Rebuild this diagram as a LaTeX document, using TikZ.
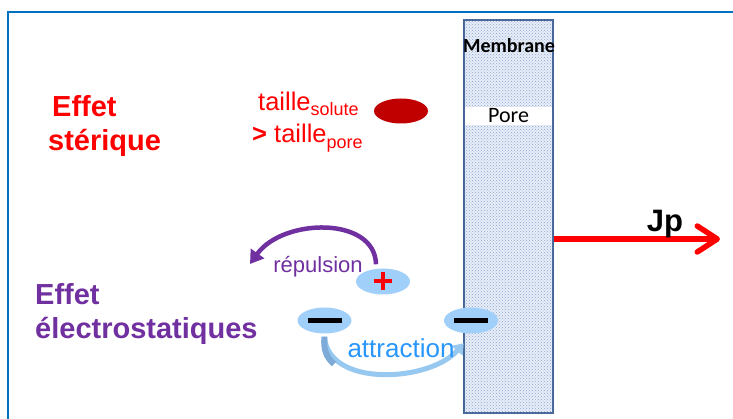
\documentclass[tikz,border=0pt]{standalone}
\usepackage{fontspec}
\setmainfont{Liberation Sans}
\newfontfamily\calibri{Carlito}
\usetikzlibrary{shapes.geometric,arrows.meta,patterns}
\definecolor{framecol}{RGB}{0,112,192}
\definecolor{stericred}{RGB}{255,0,0}
\definecolor{solutered}{RGB}{192,0,0}
\definecolor{electropurple}{RGB}{112,48,160}
\definecolor{ionfill}{RGB}{160,208,250}
\definecolor{attrcol}{RGB}{150,200,240}
\definecolor{attrstart}{RGB}{125,170,215}
\definecolor{attrtext}{RGB}{40,150,250}
\definecolor{membdraw}{RGB}{68,100,150}
\definecolor{membfill}{RGB}{232,238,248}
\definecolor{membdot}{RGB}{140,165,210}

\begin{document}
\begin{tikzpicture}[x=1pt,y=-1pt,
  stertxt/.style={text=stericred,inner sep=0,anchor=base west,font=\bfseries\fontsize{29}{29}\selectfont},
  electxt/.style={text=electropurple,inner sep=0,anchor=base west,font=\bfseries\fontsize{29}{29}\selectfont},
  tailletxt/.style={text=stericred,inner sep=0,anchor=base west,font=\fontsize{25.5}{25.5}\selectfont},
  ion/.style={ellipse,fill=ionfill,minimum width=54pt,minimum height=26pt,inner sep=0}]
  \useasboundingbox (0,0) rectangle (733,419);
  \draw[framecol,line width=2pt] (8,419) -- (8,12) -- (733,12);

  % membrane et pore
  \node[draw=membdraw,line width=1.8pt,fill=membfill,
    postaction={pattern=crosshatch dots,pattern color=membdot},
    minimum width=89pt,minimum height=393pt,inner sep=0] (memb) at (508.5,216.5) {};
  \node[font=\calibri\bfseries\fontsize{20}{20}\selectfont,anchor=base,inner sep=0] (membtxt) at (509,53) {Membrane};
  \node[fill=white,minimum width=87pt,minimum height=18pt,inner sep=0,
    font=\calibri\fontsize{22}{22}\selectfont] (pore) at (508.5,116) {Pore};

  % effet sterique
  \node[stertxt] (effetst) at (52,117) {Effet};
  \node[stertxt] (sterique) at (48,151) {stérique};
  \node[tailletxt] (tsolute) at (258,111) {taille\lower5pt\hbox{\fontsize{18}{18}\selectfont solute}};
  \node[tailletxt] (tpore) at (252,143) {\textbf{>} taille\lower6pt\hbox{\fontsize{18}{18}\selectfont pore}};
  \node[ellipse,fill=solutered,minimum width=54pt,minimum height=25pt,inner sep=0] (solute) at (401,111) {};

  % effet electrostatique
  \node[electxt] (effetel) at (35,305) {Effet};
  \node[electxt] (electro) at (35,338) {électrostatiques};
  \node[ion] (plus) at (383,281.5) {\color{red}\makebox[0pt]{\rule[-2pt]{18pt}{4pt}}\makebox[0pt]{\rule[-9pt]{4pt}{18pt}}};
  \node[ion] (minusL) at (324.5,320.5) {\rule[-2.5pt]{34pt}{5pt}};
  \node[ion] (minusR) at (471,320.5) {\rule[-2.5pt]{34pt}{5pt}};

  \coordinate (repend) at (250,264);
  \draw[electropurple,line width=4.5pt,-{Triangle[length=13pt,width=16pt]}]
    ([shift={(-7pt,4pt)}]plus.north) .. controls (375,216) and (283,218) .. (repend);
  \node[text=electropurple,anchor=base,inner sep=0,font=\fontsize{22}{22}\selectfont] (repul) at (318,273) {répulsion};

  \draw[attrcol,line width=5pt,-{Triangle[length=10pt,width=14pt]}]
    ([yshift=-3pt]minusL.south) .. controls (328,388) and (430,382) .. ([yshift=-10pt]minusR.240);
  \draw[attrstart,line width=6pt] ([yshift=-3pt]minusL.south) .. controls (323,350) and (327,358) .. (334,364);
  \node[text=attrtext,anchor=base,inner sep=0,font=\fontsize{26}{26}\selectfont] (attr) at (401,357) {attraction};

  % flux
  \coordinate (jptip) at (720,239);
  \draw[stericred,line width=5.5pt,-{Straight Barb[length=20pt,width=26pt,round]}] (memb.east |- jptip) -- (jptip);
  \node[font=\bfseries\fontsize{31}{31}\selectfont,anchor=base,inner sep=0] (jp) at (665,232) {Jp};
\end{tikzpicture}
\end{document}
